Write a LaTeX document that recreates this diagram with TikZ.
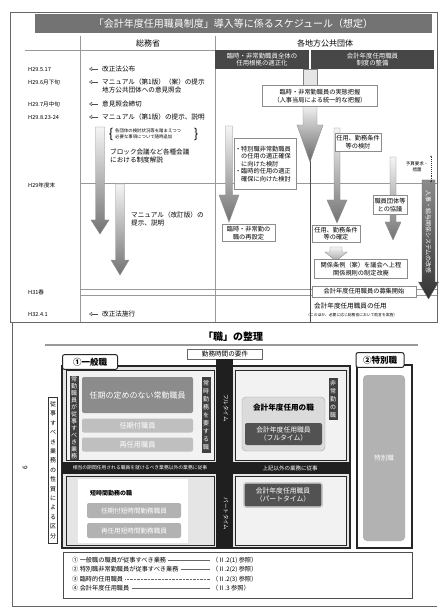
\documentclass[tikz,border=0pt]{standalone}
\usepackage{fontspec}
\setmainfont{Noto Sans CJK JP}
\usetikzlibrary{arrows.meta}
\newcommand{\fs}[2]{\fontsize{#1}{#2}\selectfont}
\makeatletter
\newcommand{\tatestack}[1]{\@tfor\tch:=#1\do{\tch\par}}
\makeatother
\newcommand{\garrow}[7]{%
  \shade[top color=black!4,bottom color=#7,draw=black!45]
    (#1-#5,#2) -- (#1+#5,#2) -- (#1+#5,#3) -- (#1+#6,#3) -- (#1,#4)
    -- (#1-#6,#3) -- (#1-#5,#3) -- cycle;}

\begin{document}
\begin{tikzpicture}[x=1pt,y=-1pt,
    date/.style={anchor=west,inner sep=0pt,font=\fs{5.6}{6.5}},
    item/.style={anchor=west,inner sep=0pt,align=left,font=\fs{6.6}{8.2}},
    pointer/.style={draw=black!70,-{Triangle[open,length=3pt,width=4pt]}},
    rule/.style={draw=black!40,line width=0.4pt},
    box/.style={draw=black!45,fill=white,align=center,inner sep=1pt,font=\fs{6.2}{7.6}},
    head/.style={fill=black!72,text=white,align=center,inner sep=1pt,font=\fs{6.4}{7.8}},
    tate/.style={text width=7pt,align=center,inner sep=1pt,font=\fs{6}{7}},
    frame/.style={draw=black!85,line width=1.3pt},
    bar/.style={text=white,rounded corners=2pt,align=center,inner sep=1pt,font=\fs{7.2}{8.6}},
    tab/.style={draw=black!85,line width=1pt,fill=white,rounded corners=2pt,font=\bfseries\fs{8.5}{10}}]
    \fill[white] (0,0) rectangle (446,609);
    \useasboundingbox (0,0) rectangle (446,609);

    \draw[black!60] (10,12) rectangle (437,322);
    \node[fill=black!55,text=white,minimum width=397pt,minimum height=19pt,font=\fs{10}{12}] (ttl) at (233.5,24) {「会計年度任用職員制度」導入等に係るスケジュール（想定）};
    \draw[rule] (80,36) -- (80,322) (215,36) -- (215,322) (25,50) -- (215,50);
    \draw[rule] (80,183) -- (437,183) (80,289) -- (437,289) (80,295) -- (437,295);
    \draw[black!70] (310,160) -- (310,322);
    \node[font=\fs{8}{9}] (moc) at (148,43) {総務省};
    \node[font=\fs{8}{9}] (loc) at (325,43) {各地方公共団体};
    \node[head,minimum width=94pt,minimum height=19pt] (hl) at (262,59.5) {臨時・非常勤職員全体の\\任用根拠の適正化};
    \node[head,minimum width=123pt,minimum height=19pt] (hr) at (372.5,59.5) {会計年度任用職員\\制度の整備};

    \node[date] (d1) at (28,69) {H29.5.17};
    \node[date] (d2) at (28,82) {H29.6月下旬};
    \node[date] (d3) at (28,104) {H29.7月中旬};
    \node[date] (d4) at (28,117) {H29.8.23-24};
    \node[date] (d5) at (28,185) {H29年度末};
    \node[date] (d6) at (28,292) {H31春};
    \node[date] (d7) at (28,314) {H32.4.1};

    \garrow{100}{127}{220}{234}{4.5}{9}{black!55}
    \garrow{120}{184}{260}{275}{4.5}{9}{black!55}

    \node[item] (e1) at (102,69) {改正法公布};
    \node[item] (e2) at (102,86) {マニュアル（第1版）（案）の提示\\地方公共団体への意見照会};
    \node[item] (e3) at (102,104) {意見照会締切};
    \node[item] (e4) at (102,117) {マニュアル（第1版）の提示、説明};
    \node[item] (e7) at (102,314) {改正法施行};
    \foreach \e in {e1,e3,e4,e7}
      \draw[pointer] ([xshift=-4pt]\e.west) -- ++(-9,0);
    \draw[pointer] ([xshift=-4pt,yshift=4pt]e2.west) -- ++(-9,0);
    \node[font=\fs{13}{13}] (bl) at (111,134) {\{};
    \node[anchor=west,align=left,inner sep=0pt,font=\fs{4.4}{5.6}] (note) at (115,134) {各団体の検討状況等を踏まえつつ\\必要な事項について随時追加};
    \node[font=\fs{13}{13}] (br) at (196,134) {\}};
    \node[item] (e5) at (110,156) {ブロック会議など各種会議\\における制度解説};
    \node[item] (e6) at (131,219) {マニュアル（改訂版）の\\提示、説明};

    \draw[black!50,fill=black!10] (303,69) rectangle (317,85);
    \garrow{310}{104}{125}{162}{7}{13}{black!60}
    \garrow{229}{126}{195}{222}{3.5}{10}{black!55}
    \garrow{337}{128}{200}{223}{3}{10}{black!55}
    \garrow{393}{157}{222}{240}{3}{8}{black!55}
    \garrow{336}{247}{252}{261}{6}{11}{black!35}
    \shade[top color=black!45,bottom color=black!80,draw=black!60]
      (422,180) -- (435,180) -- (435,282) -- (438.5,282) -- (428.5,299)
      -- (418.5,282) -- (422,282) -- cycle;
    \node[rotate=-90,text=white,font=\fs{6}{7}] (sys) at (428.5,232) {人事・給与関係システムの改修};

    \node[box,minimum width=115pt,minimum height=21pt] (r1) at (320,96) {臨時・非常勤職員の実態把握\\（人事当局による統一的な把握）};
    \node[box,text width=60pt,align=left,minimum height=51pt] (sp) at (265,164) {・特別職非常勤職員\\\hphantom{・}の任用の適正確保\\\hphantom{・}に向けた検討\\・臨時的任用の適正\\\hphantom{・}確保に向けた検討};
    \node[box,minimum width=53pt,minimum height=17pt] (rs) at (248.5,233) {臨時・非常勤の\\職の再設定};
    \node[box,minimum width=40pt,minimum height=18pt] (k1) at (358,142) {任用、勤務条件\\等の検討};
    \node[box,minimum width=48pt,minimum height=17pt] (k2) at (336,233.5) {任用、勤務条件\\等の確定};
    \node[box,minimum width=34pt,minimum height=19pt] (ku) at (390,205) {職員団体等\\との協議};
    \node[align=center,inner sep=0pt,font=\fs{4.5}{5.5}] (yo) at (417,167) {予算要求・\\措置};
    \draw[black!80,densely dotted,line width=0.9pt,{Latex[length=2pt]}-{Latex[length=2pt]}] ([xshift=14pt,yshift=-16pt]yo.center) -- ([xshift=14pt,yshift=12pt]yo.center);
    \node[box,minimum width=93pt,minimum height=19pt] (jo) at (361,269) {関係条例（案）を議会へ上程\\関係規則の制定改廃};
    \node[box,minimum width=104pt,minimum height=11pt] (bo) at (364,291.5) {会計年度任用職員の募集開始};
    \node[item] (ni) at (314,306) {会計年度任用職員の任用};
    \node[anchor=west,inner sep=0pt,font=\fs{3.8}{4.5}] (nb) at (306,315) {（このほか、必要に応じ総務省において助言を実施）};

    \draw[black!60] (12,322) -- (12,606) -- (437,606);
    \node[font=\bfseries\fs{10}{11}] (sei) at (233,337) {「職」の整理};
    \draw[black!40,line width=2pt] (45,345) -- (418,345);
    \node[draw=black!60,fill=white,minimum width=75pt,minimum height=10pt,inner sep=0pt,font=\fs{6.6}{7}] (req) at (225,354) {勤務時間の要件};

    \draw[frame,fill=black!10] (62,366) rectangle (350,548);
    \draw[black!85,line width=1pt,fill=black!5] (66,370) rectangle (214,460);
    \draw[black!85,line width=1pt,fill=black!5] (235,370) rectangle (346,460);
    \draw[black!85,line width=1pt,fill=black!10] (66,476) rectangle (214,545);
    \draw[black!85,line width=1pt,fill=black!5] (235,476) rectangle (346,545);
    \fill[white] (78,479) rectangle (188,543);
    \fill[black!88] (216,359) rectangle (233,548);
    \fill[black!88] (62,462) rectangle (350,474);
    \node[tab,minimum width=55pt,minimum height=11pt] (ippan) at (90,362) {①一般職};

    \node[tate,fill=black!75,text=white,minimum height=84pt] (l1) at (74,418) {\tatestack{常勤職員が従事すべき業務}};
    \node[bar,fill=black!45,minimum width=111pt,minimum height=36pt,font=\fs{8}{9}] (mu) at (137.5,395) {任期の定めのない常勤職員};
    \node[bar,fill=black!25,minimum width=111pt,minimum height=14pt] (nk) at (137.5,425.5) {任期付職員};
    \node[bar,fill=black!25,minimum width=111pt,minimum height=14pt] (sa) at (137.5,444.5) {再任用職員};
    \node[tate,fill=black!75,text=white,minimum height=76pt,font=\fs{6}{8}] (l2) at (206,415) {\tatestack{常時勤務を要する職}};

    \node[draw=black!35,fill=black!14,rounded corners=4pt,minimum width=83pt,minimum height=54pt] (kw) at (283.5,424) {};
    \node[font=\bfseries\fs{7.6}{8.6}] (kn) at (283.5,408) {会計年度任用の職};
    \node[bar,fill=black!68,minimum width=77pt,minimum height=22pt,font=\fs{6.8}{8}] (kf) at (283.5,434) {会計年度任用職員\\（フルタイム）};
    \node[tate,fill=black!75,text=white,minimum height=42pt,font=\fs{6}{8}] (l3) at (333,399) {\tatestack{非常勤の職}};

    \node[text=white,inner sep=0pt,font=\fs{4.8}{5}] (b1) at (140,468) {相当の期間任用される職員を就けるべき業務以外の業務に従事};
    \node[text=white,inner sep=0pt,font=\fs{5.5}{6}] (b2) at (290,468) {上記以外の業務に従事};
    \node[rotate=-90,text=white,inner sep=0pt,font=\fs{5.5}{6}] (ft) at (226,408) {フルタイム};
    \node[rotate=-90,text=white,inner sep=0pt,font=\fs{5.5}{6}] (pt) at (226,514) {パートタイム};

    \node[anchor=west,inner sep=0pt,font=\bfseries\fs{6}{7}] (tj) at (90,493) {短時間勤務の職};
    \node[bar,fill=black!30,minimum width=94pt,minimum height=15pt,font=\fs{6.6}{8}] (tn) at (134,510.5) {任期付短時間勤務職員};
    \node[bar,fill=black!30,minimum width=94pt,minimum height=15pt,font=\fs{6.6}{8}] (ts) at (134,530.5) {再任用短時間勤務職員};
    \node[bar,fill=black!68,draw=black!30,double=black!15,minimum width=78pt,minimum height=24pt,font=\fs{6.8}{8}] (kp) at (283,495) {会計年度任用職員\\（パートタイム）};

    \node[tate,draw=black!80,fill=white,minimum height=146pt,font=\fs{6}{9.4}] (l0) at (53,470) {\tatestack{従事すべき業務の性質による区分}};
    \node[rotate=90,font=\fs{6.5}{7}] (pg) at (25,468) {6};

    \draw[frame] (357,365) rectangle (412,548);
    \fill[black!30,rounded corners=4pt] (363,375) rectangle (405,541);
    \node[text=white,font=\fs{6.5}{7}] (tk) at (384,458) {特別職};
    \node[tab,minimum width=48pt,minimum height=12pt] (tokubetsu) at (380,360) {②特別職};

    \draw[black!70] (63,552) rectangle (412,598);
    \node[anchor=west,inner sep=0pt,font=\fs{6.2}{7}] (g1) at (72,560) {①\ 一般職の職員が従事すべき業務};
    \node[anchor=west,inner sep=0pt,font=\fs{6.2}{7}] (g2) at (72,569.5) {②\ 特別職非常勤職員が従事すべき業務};
    \node[anchor=west,inner sep=0pt,font=\fs{6.2}{7}] (g3) at (72,579) {③\ 臨時的任用職員};
    \node[anchor=west,inner sep=0pt,font=\fs{6.2}{7}] (g4) at (72,588.5) {④\ 会計年度任用職員};
    \node[anchor=west,inner sep=0pt,font=\fs{6.2}{7}] (h1) at (212,560) {（Ⅱ.2(1)\ 参照）};
    \node[anchor=west,inner sep=0pt,font=\fs{6.2}{7}] (h2) at (212,569.5) {（Ⅱ.2(2)\ 参照）};
    \node[anchor=west,inner sep=0pt,font=\fs{6.2}{7}] (h3) at (212,579) {（Ⅱ.2(3)\ 参照）};
    \node[anchor=west,inner sep=0pt,font=\fs{6.2}{7}] (h4) at (212,588.5) {（Ⅱ.3\ 参照）};
    \draw[black!60] ([xshift=2pt]g1.east) -- ([xshift=-2pt]h1.west);
    \draw[black!60] ([xshift=2pt]g2.east) -- ([xshift=-2pt]h2.west);
    \draw[black!60,densely dotted] ([xshift=2pt]g3.east) -- ([xshift=-2pt]h3.west);
    \draw[black!60] ([xshift=2pt]g4.east) -- ([xshift=-2pt]h4.west);
  \end{tikzpicture}
\end{document}
